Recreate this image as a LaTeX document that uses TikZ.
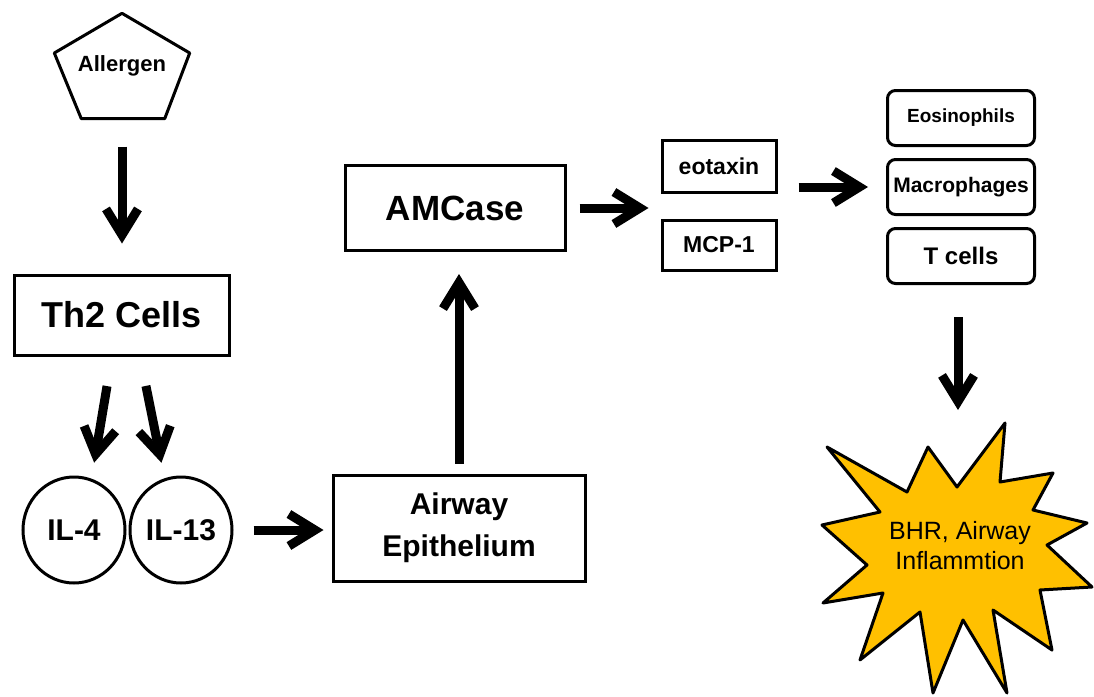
\documentclass[tikz,border=0pt]{standalone}
\usepackage{fontspec}
\setmainfont{Liberation Sans}
\usetikzlibrary{arrows.meta,calc,shapes.geometric}
\definecolor{burstgold}{HTML}{FFC000}

\begin{document}
\begin{tikzpicture}[x=1pt,y=-1pt,
    box/.style={draw,line width=3pt,align=center,inner sep=0pt},
    rbox/.style={box,rounded corners=8pt,minimum width=147pt,minimum height=55pt},
    circ/.style={draw,line width=3pt,ellipse,inner sep=0pt,minimum width=102pt,minimum height=106pt},
    arr/.style={line width=9pt,-{Straight Barb[length=26pt,width=32pt]}}]
            \useasboundingbox (0,0) rectangle (1094,696);
            % left column
            \node[minimum width=135pt,minimum height=105pt,inner sep=0pt,
                font=\bfseries\fontsize{22}{24}\selectfont] (alg) at (122,66) {Allergen};
            \draw[line width=3pt,line join=round] (alg.north)
                -- ($(alg.east)+(0,-13)$) -- ($(alg.south east)+(-25,0)$)
                -- ($(alg.south west)+(27,0)$) -- ($(alg.west)+(0,-13)$) -- cycle;
            \node[box,minimum width=215pt,minimum height=80pt,
                font=\bfseries\fontsize{36}{40}\selectfont] (th2) at (122,315) {Th2 Cells};
            \node[circ,font=\bfseries\fontsize{30}{34}\selectfont] (il4) at (74,530) {IL-4};
            \node[circ,font=\bfseries\fontsize{30}{34}\selectfont] (il13) at (181,530) {IL-13};
            % middle
            \node[box,minimum width=252pt,minimum height=106pt,
                font=\bfseries\fontsize{30}{42}\selectfont] (ae) at (459,528) {Airway\\Epithelium};
            \node[box,minimum width=220pt,minimum height=85pt,
                font=\bfseries\fontsize{35}{40}\selectfont] (amc) at (455,208) {AMCase};
            \node[box,minimum width=114pt,minimum height=52pt,
                font=\bfseries\fontsize{23}{26}\selectfont] (eot) at (719,166) {eotaxin};
            \node[box,minimum width=114pt,minimum height=50pt,
                font=\bfseries\fontsize{23}{26}\selectfont] (mcp) at (719,245) {MCP-1};
            % right column
            \node[rbox,font=\bfseries\fontsize{19}{22}\selectfont] (eos) at (961,118) {Eosinophils};
            \node[rbox,font=\bfseries\fontsize{21}{24}\selectfont] (mac) at (961,187) {Macrophages};
            \node[rbox,font=\bfseries\fontsize{24}{27}\selectfont] (tc) at (961,256) {T cells};
            \fill[burstgold,draw=black,line width=3pt,line join=round]
                (1005,423) -- (1000,482) -- (1053,473) -- (1033,510) -- (1087,523)
                -- (1047,545) -- (1092,587) -- (1040,590) -- (1052,650) -- (993,610)
                -- (1007,693) -- (963,620) -- (933,693) -- (920,612) -- (860,660)
                -- (883,593) -- (823,603) -- (867,565) -- (822,525) -- (880,512)
                -- (827,447) -- (907,492) -- (928,447) -- (957,487) -- cycle;
            \coordinate (burst) at (958,422);
            \node[align=center,font=\fontsize{25}{30}\selectfont] (bhr) at (960,546) {BHR, Airway\\Inflammtion};
            % arrows
            \draw[arr,shorten <=28pt,shorten >=30pt] (alg.south) -- (th2.north);
            \draw[arr,shorten <=30pt,shorten >=13pt] ([xshift=-10pt]th2.south) -- ([xshift=18pt]il4.north);
            \draw[arr,shorten <=30pt,shorten >=13pt] ([xshift=18pt]th2.south) -- ([xshift=-17pt]il13.north);
            \draw[arr,shorten <=20pt,shorten >=8pt] (il13.east) -- (il13.east -| ae.west);
            \draw[arr,shorten <=10pt,shorten >=22pt] (ae.north) -- (ae.north |- amc.south);
            \draw[arr,shorten <=13pt,shorten >=12pt] (amc.east) -- (amc.east -| eot.west);
            \draw[arr,shorten <=21pt,shorten >=18pt] (eot.east |- mac.west) -- (mac.west);
            \draw[arr,shorten <=32pt,shorten >=12pt] (tc.south -| burst) -- (burst);
        \end{tikzpicture}
\end{document}
